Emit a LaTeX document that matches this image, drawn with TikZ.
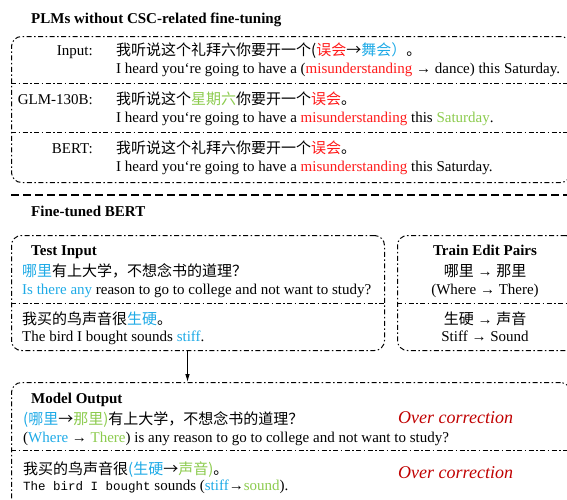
\documentclass[tikz,border=0pt]{standalone}
\usepackage{fontspec}
\setmainfont{Liberation Serif}
\setmonofont{Liberation Mono}
\newfontfamily\zh{Noto Sans CJK SC}
\usetikzlibrary{arrows.meta, positioning}

% Coloured words
\newcommand{\wrongw}[1]{\textcolor{wrongRed}{#1}}
\newcommand{\srcw}[1]{\textcolor{srcBlue}{#1}}
\newcommand{\tgtw}[1]{\textcolor{tgtGreen}{#1}}

\tikzset{
    panel/.style={draw, line width=1pt, rounded corners=10pt, anchor=north west, inner sep=0pt,
        dash pattern=on 5pt off 2.5pt on 1.5pt off 2.5pt},
    divider/.style={line width=1pt, dash pattern=on 5pt off 2.5pt on 1.5pt off 2.5pt},
    txt/.style={anchor=base west, inner sep=0pt, font=\fontsize{15pt}{18pt}\selectfont},
    rowlabel/.style={txt, anchor=base east},
    heading/.style={txt, font=\fontsize{15pt}{18pt}\selectfont\bfseries},
    pairtxt/.style={txt, anchor=base},
    overtxt/.style={txt, font=\fontsize{18pt}{20pt}\selectfont\itshape, text=overRed},
}

\begin{document}
\begin{tikzpicture}[x=1pt, y=-1pt]
    % Define colors
    \definecolor{wrongRed}{HTML}{FF1A1A}
    \definecolor{srcBlue}{HTML}{1EAAE6}
    \definecolor{tgtGreen}{HTML}{8CCB4E}
    \definecolor{overRed}{HTML}{C00000}

    % Fix the page size
    \useasboundingbox (0,0) rectangle (567,499);
    \clip (0,0) rectangle (567,499);

    % PLMs without fine-tuning
    \node[heading] (plmtitle) at (31,23) {PLMs without CSC-related fine-tuning};
    \node[panel, minimum width=559pt, minimum height=146pt] (plmbox) at (11,36) {};
    \draw[divider] (11,83) -- (570,83);
    \draw[divider] (11,132) -- (570,132);

    % Input row
    \node[rowlabel] (inlabel) at (93,55) {Input:};
    \node[txt] (inzh) at (116,55) {\zh 我听说这个礼拜六你要开一个(\wrongw{误会}→\srcw{舞会）}。};
    \node[txt] (inen) at (116,73) {I heard you‘re going to have a (\wrongw{misunderstanding} → dance) this Saturday.};

    % GLM-130B row
    \node[rowlabel] (glmlabel) at (93,104) {GLM-130B:};
    \node[txt] (glmzh) at (116,104) {\zh 我听说这个\tgtw{星期六}你要开一个\wrongw{误会}。};
    \node[txt] (glmen) at (116,122) {I heard you‘re going to have a \wrongw{misunderstanding} this \tgtw{Saturday}.};

    % BERT row
    \node[rowlabel] (bertlabel) at (93,153) {BERT:};
    \node[txt] (bertzh) at (116,153) {\zh 我听说这个礼拜六你要开一个\wrongw{误会}。};
    \node[txt] (berten) at (116,171) {I heard you‘re going to have a \wrongw{misunderstanding} this Saturday.};

    % Separator
    \draw[line width=1.5pt, dash pattern=on 8pt off 4pt] (11,195) -- (567,195);

    % Fine-tuned BERT
    \node[heading] (fttitle) at (31,216) {Fine-tuned BERT};

    % Test input panel
    \node[panel, minimum width=373pt, minimum height=115pt] (testbox) at (11,235) {};
    \draw[divider] (11,303) -- (384,303);
    \node[heading] (testtitle) at (31,255) {Test Input};
    \node[txt] (testzha) at (22,276) {\zh \srcw{哪里}有上大学，不想念书的道理？};
    \node[txt] (testena) at (22,294) {\srcw{Is there any} reason to go to college and not want to study?};
    \node[txt] (testzhb) at (22,324) {\zh 我买的鸟声音很\srcw{生硬}。};
    \node[txt] (testenb) at (22,341) {The bird I bought sounds \srcw{stiff}.};

    % Train edit pairs panel
    \node[panel, minimum width=178pt, minimum height=115pt] (trainbox) at (397,235) {};
    \draw[divider] (397,303) -- (575,303);
    \node[heading, anchor=base] (traintitle) at (485,255) {Train Edit Pairs};
    \node[pairtxt] (pairzha) at (485,276) {{\zh 哪里} → {\zh 那里}};
    \node[pairtxt] (pairena) at (485,294) {(Where → There)};
    \node[pairtxt] (pairzhb) at (485,324) {{\zh 生硬} → {\zh 声音}};
    \node[pairtxt] (pairenb) at (485,341) {Stiff → Sound};

    % Model output panel
    \node[panel, minimum width=559pt, minimum height=128pt] (outbox) at (11,382) {};
    \draw[divider] (11,450) -- (570,450);
    \node[heading] (outtitle) at (31,403) {Model Output};
    \node[txt] (outzha) at (23,424) {\zh \srcw{(哪里}→\tgtw{那里)}有上大学，不想念书的道理？};
    \node[txt] (outena) at (23,442) {(\srcw{Where} → \tgtw{There}) is any reason to go to college and not want to study?};
    \node[txt] (outzhb) at (23,474) {\zh 我买的鸟声音很\srcw{(生硬}→\tgtw{声音)}。};
    \node[txt] (outenb) at (23,490) {{\fontsize{12.5pt}{18pt}\selectfont\ttfamily The bird I bought} sounds (\srcw{stiff}→\tgtw{sound}).};
    \node[overtxt] (overa) at (398,423) {Over correction};
    \node[overtxt] (overb) at (398,478) {Over correction};

    % Arrow from test input to model output
    \draw[-{Latex[length=8pt,width=4.5pt]}, line width=0.8pt]
        ([xshift=-10.5pt]testbox.south) -- ([xshift=-10.5pt]testbox.south |- outbox.north);

\end{tikzpicture}
\end{document}
